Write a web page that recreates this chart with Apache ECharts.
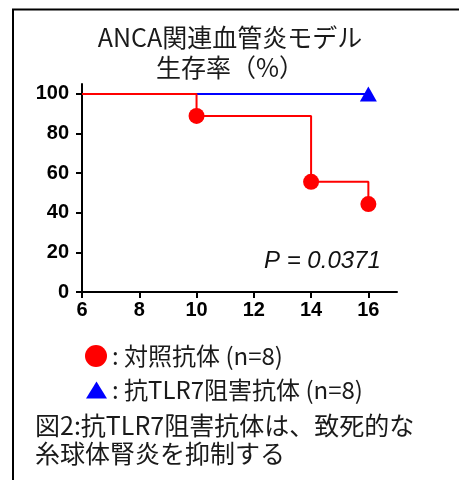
<!DOCTYPE html>
<html>
<head>
<meta charset="utf-8">
<script src="https://cdn.jsdelivr.net/npm/echarts@6/dist/echarts.min.js"></script>
<style>
  html, body { margin: 0; padding: 0; background: #fff; }
  #chart { width: 459px; height: 480px; }
</style>
</head>
<body>
<div id="chart"></div>
<script>
// Survival (%) by week for each treatment group (Kaplan–Meier steps)
const controlDays = [6, 10, 14, 16];
const controlSurvival = [100, 88.9, 55.6, 44.4];
const tlr7Days = [6, 16];
const tlr7Survival = [100, 100];

const xTicks = [6, 8, 10, 12, 14, 16];
const yTicks = [0, 20, 40, 60, 80, 100];

const controlName = '対照抗体 (n=8)';
const tlr7Name = '抗TLR7阻害抗体 (n=8)';

const jp = '"Noto Sans CJK JP", "Noto Sans", sans-serif';
const latin = '"Liberation Sans", Arial, sans-serif';

function toPoints(xs, ys, firstPlain) {
  return xs.map((x, i) => (i === 0 && firstPlain)
    ? { value: [x, ys[i]], symbol: 'none' }
    : { value: [x, ys[i]] });
}

const chart = echarts.init(document.getElementById('chart'), null, { renderer: 'canvas' });

chart.setOption({
  animation: false,
  backgroundColor: '#ffffff',
  title: [
    {
      text: 'ANCA関連血管炎モデル\n生存率（%）',
      left: 225, top: 17, textAlign: 'center',
      textStyle: { fontFamily: jp, fontSize: 25, fontWeight: 'normal', color: '#1a1a1a', lineHeight: 30, align: 'center' }
    },
    {
      text: 'P = 0.0371',
      left: 259, top: 244,
      textStyle: { fontFamily: latin, fontSize: 24, fontStyle: 'italic', fontWeight: 'normal', color: '#111' }
    },
    {
      text: '図2:抗TLR7阻害抗体は、致死的な\n糸球体腎炎を抑制する',
      left: 30, top: 406,
      textStyle: { fontFamily: jp, fontSize: 25, fontWeight: 'normal', color: '#1a1a1a', lineHeight: 28 }
    }
  ],
  graphic: [
    {
      type: 'rect',
      shape: { x: 13, y: 9.5, width: 520, height: 520 },
      style: { fill: 'none', stroke: '#000', lineWidth: 2 },
      silent: true
    }
  ],
  legend: [
    {
      data: [{ name: controlName, icon: 'circle' }],
      left: 80, top: 339,
      itemWidth: 22, itemHeight: 22, itemGap: 4,
      formatter: n => ': ' + n,
      textStyle: { fontFamily: jp, fontSize: 24, color: '#1a1a1a' }
    },
    {
      data: [{ name: tlr7Name, icon: 'triangle' }],
      left: 81, top: 373,
      itemWidth: 21, itemHeight: 17, itemGap: 5,
      formatter: n => ': ' + n,
      textStyle: { fontFamily: jp, fontSize: 24, color: '#1a1a1a' }
    }
  ],
  grid: { left: 82, right: 62, top: 84, bottom: 188, containLabel: false },
  xAxis: {
    type: 'value', min: 6, max: 17, interval: 2,
    axisLine: { show: true, onZero: false, lineStyle: { color: '#000', width: 2 } },
    axisTick: { show: true, length: 6, customValues: xTicks, lineStyle: { color: '#000', width: 2 } },
    axisLabel: { customValues: xTicks, margin: 8, fontFamily: latin, fontSize: 20, fontWeight: 'bold', color: '#000' },
    splitLine: { show: false }
  },
  yAxis: {
    type: 'value', min: 0, max: 105, interval: 20,
    axisLine: { show: true, lineStyle: { color: '#000', width: 2 } },
    axisTick: { show: true, length: 6, customValues: yTicks, lineStyle: { color: '#000', width: 2 } },
    axisLabel: { customValues: yTicks, margin: 13, fontFamily: latin, fontSize: 20, fontWeight: 'bold', color: '#000' },
    splitLine: { show: false }
  },
  series: [
    {
      name: tlr7Name,
      type: 'line',
      data: toPoints(tlr7Days, tlr7Survival, true),
      symbol: 'triangle', symbolSize: [17, 15],
      itemStyle: { color: '#0000ff' },
      lineStyle: { color: '#0000ff', width: 2 },
      z: 2
    },
    {
      name: controlName,
      type: 'line',
      step: 'end',
      data: toPoints(controlDays, controlSurvival, true),
      symbol: 'circle', symbolSize: 16,
      itemStyle: { color: '#ff0000' },
      lineStyle: { color: '#ff0000', width: 2 },
      z: 3
    }
  ]
});
</script>
</body>
</html>
